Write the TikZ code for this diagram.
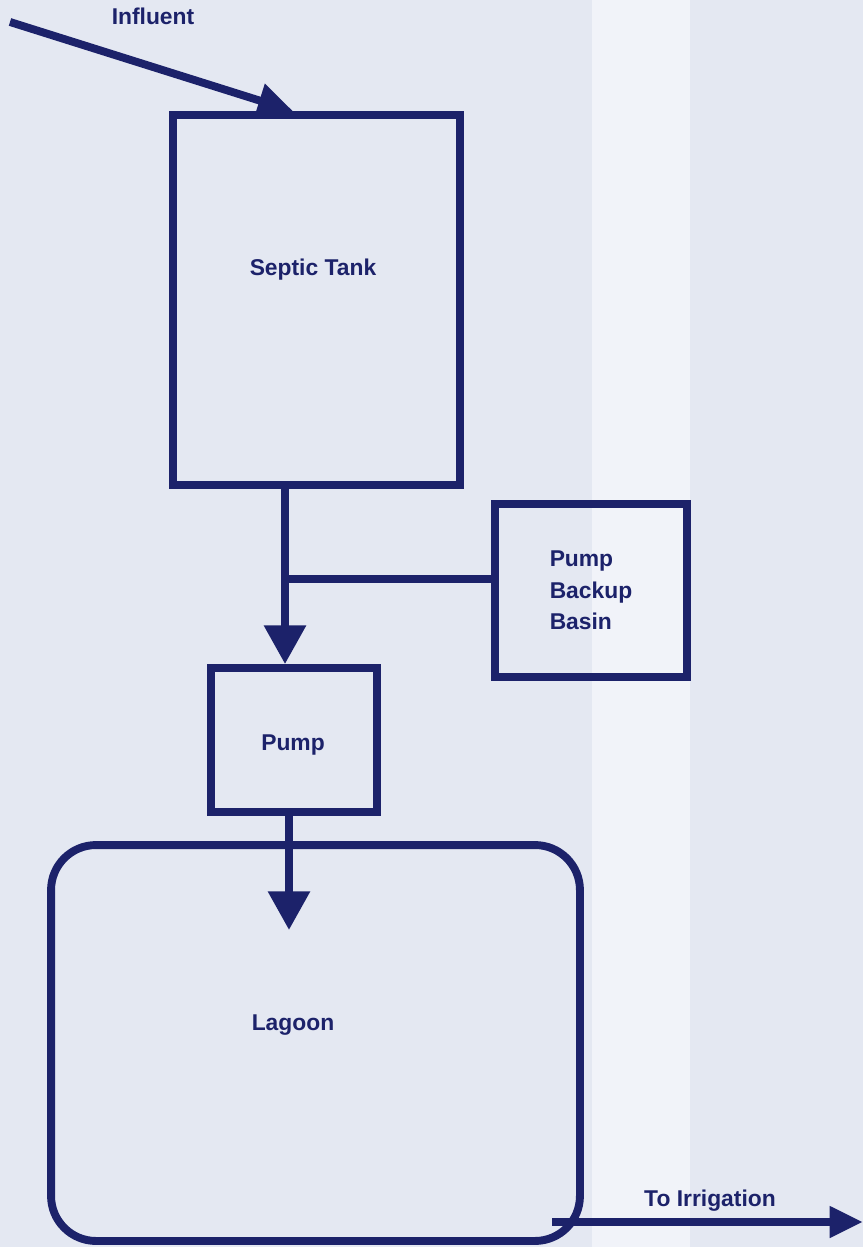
\documentclass[tikz,border=0pt]{standalone}
\usepackage{fontspec}
\setmainfont{Liberation Sans}
\usetikzlibrary{arrows.meta,positioning,calc}
\definecolor{ink}{RGB}{28,34,106}
\definecolor{paper}{RGB}{228,232,242}
\definecolor{paperlight}{RGB}{241,243,249}

\begin{document}
\begin{tikzpicture}[x=0.02cm,y=-0.02cm]
  \tikzset{unit/.style={draw=ink,line width=4.5pt,inner sep=0pt,text=ink,font=\bfseries\fontsize{13}{18}\selectfont},
    lbl/.style={text=ink,inner sep=0pt,font=\bfseries\fontsize{13}{18}\selectfont},
    pipe/.style={draw=ink,line width=4.5pt},
    flow/.style={pipe,-{Triangle[length=22pt,width=23pt]}}}
  % scanned page
  \fill[paper] (0,0) rectangle (863,1247);
  \fill[paperlight] (592,0) rectangle (690,1247);
  \useasboundingbox (0,0) rectangle (863,1247);
  \node[unit,minimum width=5.74cm,minimum height=7.4cm] (tank) at (316.5,300) {};
  \node[unit,minimum width=3.84cm,minimum height=3.46cm,align=left] (basin) at (591,590.5) {Pump\\Backup\\Basin};
  \node[unit,minimum width=3.32cm,minimum height=2.88cm] (pump) at (294,740) {};
  \node[unit,rounded corners=0.9cm,minimum width=10.58cm,minimum height=7.92cm] (lagoon) at (315.5,1043) {};
  \node[lbl] (tanklbl) at (313,270) {Septic Tank};
  \node[lbl] (pumplbl) at (293,745) {Pump};
  \node[lbl] (lagoonlbl) at (293,1025) {Lagoon};
  \node[lbl] (inlbl) at (153,16) {Influent};
  \node[lbl] (irrlbl) at (710,1201) {To Irrigation};
  \coordinate (in) at (10,22);
  \coordinate (j) at (285,579);
  \coordinate (drop) at (289,930);
  \coordinate (out) at (552,1222);
  \coordinate (irr) at (863,1222);
  \draw[pipe,-{Triangle[length=20pt,width=19pt]}] (in) -- ([xshift=-0.47cm]tank.north);
  \draw[pipe] (tank.south -| j) -- (j);
  \draw[pipe] (j) -- (j -| basin.west);
  \draw[flow] (j) -- (j |- pump.north);
  \draw[flow] (pump.south -| drop) -- (drop);
  \draw[pipe,-{Triangle[length=19pt,width=17pt]}] (out) -- (irr);
\end{tikzpicture}
\end{document}
